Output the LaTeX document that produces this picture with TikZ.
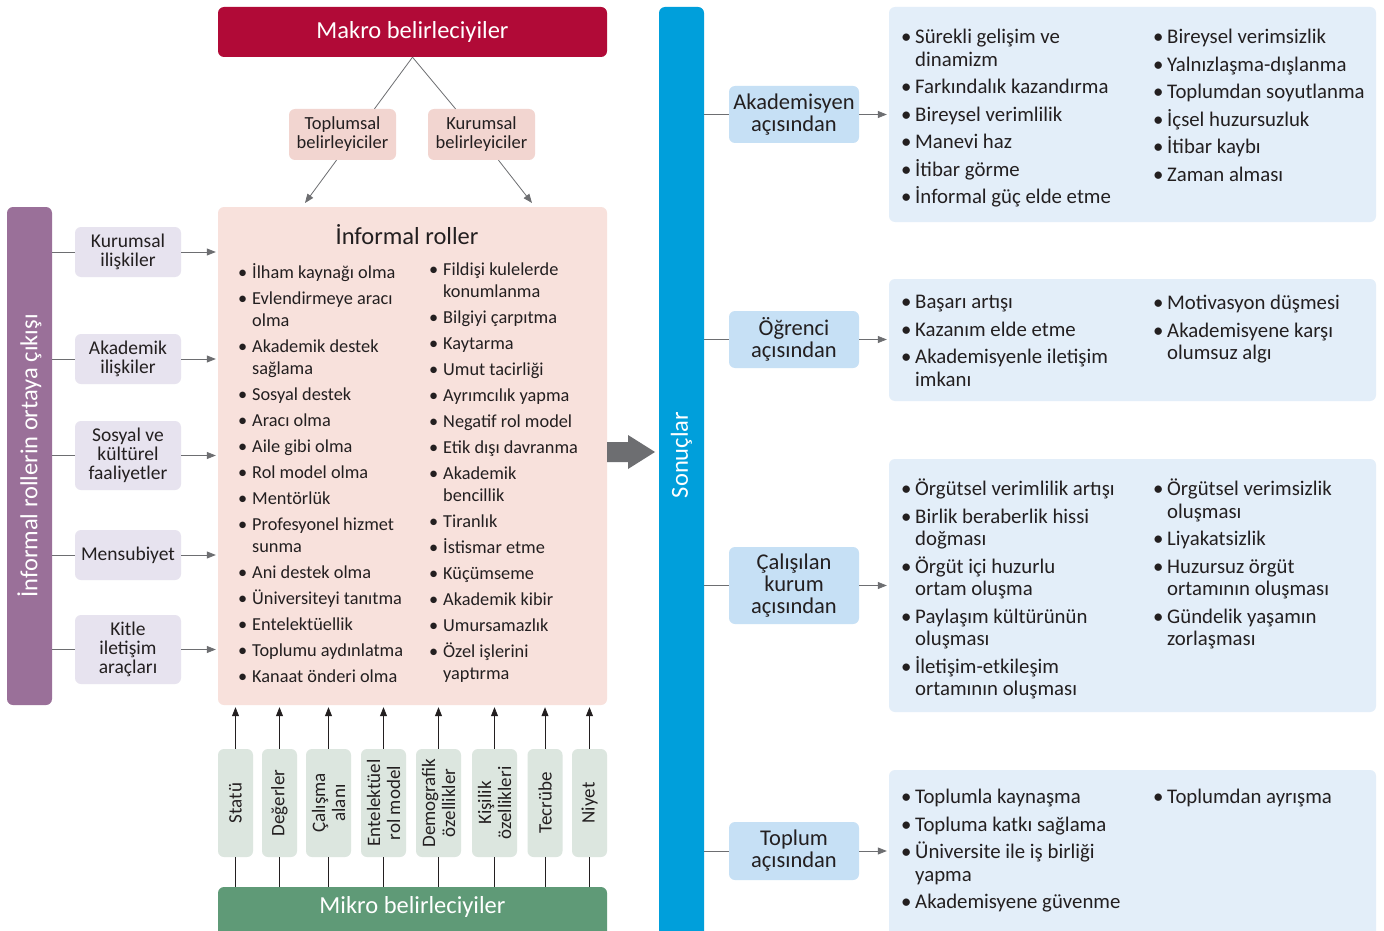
\documentclass[tikz,border=0pt]{standalone}
\usepackage{fontspec}
\setmainfont{Carlito}
\usetikzlibrary{arrows.meta}
\definecolor{txt}{HTML}{231F20}
\definecolor{makro}{HTML}{B10A37}
\definecolor{belir}{HTML}{F2D5D0}
\definecolor{infpink}{HTML}{F8E1DC}
\definecolor{purp}{HTML}{9A7099}
\definecolor{lav}{HTML}{E7E3EF}
\definecolor{arrgray}{HTML}{6D6E71}
\definecolor{sonblue}{HTML}{009FDB}
\definecolor{persp}{HTML}{C6E0F5}
\definecolor{sonuc}{HTML}{E3EEF9}
\definecolor{mikrolt}{HTML}{DCE6DF}
\definecolor{mikro}{HTML}{5F9A77}
\newlength{\dotw}
\setlength{\dotw}{15pt}
\newcommand{\itemdot}{\makebox[\dotw][l]{\hspace*{1pt}\textbullet}}
\newcommand{\itemgap}{\hspace*{\dotw}}
\begin{document}
\begin{tikzpicture}[x=1pt,y=-1pt,
  box/.style={rounded corners=6pt, inner sep=0pt, align=center, text=txt},
  headfont/.style={font=\fontsize{24.5}{28}\selectfont},
  head/.style={box, text=white, headfont},
  small/.style={box, font=\fontsize{19.5}{19}\selectfont},
  micro/.style={box, fill=mikrolt, rotate=90, minimum width=108pt, font=\fontsize{19}{20}\selectfont},
  persbox/.style={box, fill=persp, minimum width=130pt, font=\fontsize{22.5}{22}\selectfont},
  sonbox/.style={box, fill=sonuc, minimum width=487pt},
  list/.style={anchor=north west, inner sep=0pt, align=left, text=txt},
  ln/.style={draw=arrgray, line width=0.8pt},
  arr/.style={ln, -{Triangle[length=9pt,width=7pt]}},
  arrk/.style={draw=txt, line width=0.9pt, -{Triangle[length=9pt,width=7pt]}}]
\clip (0,0) rectangle (1384,931);
\fill[white] (0,0) rectangle (1384,931);

% makro
\node[head, fill=makro, minimum width=389pt, minimum height=50pt] (mak) at (412.5,32) {Makro belirleciyiler};
\node[small, fill=belir, minimum width=107pt, minimum height=51pt, font=\fontsize{18.5}{19}\selectfont] (topl) at (342.5,134.5) {Toplumsal\\belirleyiciler};
\node[small, fill=belir, minimum width=107pt, minimum height=51pt, font=\fontsize{18.5}{19}\selectfont] (kurb) at (481.5,134.5) {Kurumsal\\belirleyiciler};
\draw[ln] (mak.south) -- ([xshift=32pt]topl.north);
\draw[ln] (mak.south) -- ([xshift=-26pt]kurb.north);

% informal roller
\node[box, fill=infpink, minimum width=389pt, minimum height=498pt] (inf) at (412.5,456) {};
\node[text=txt, headfont] (inft) at (407,235) {İnformal roller};
\coordinate (t1) at (305,203);
\coordinate (t2) at (532,203);
\draw[arr] ([xshift=-6pt]topl.south) -- (t1);
\draw[arr] ([xshift=17pt]kurb.south) -- (t2);
\node[list, font=\fontsize{18.3}{22}\selectfont] (infl) at (237,263) {%
\itemdot İlham kaynağı olma\\[4pt]
\itemdot Evlendirmeye aracı\\ \itemgap olma\\[4pt]
\itemdot Akademik destek\\ \itemgap sağlama\\[4pt]
\itemdot Sosyal destek\\[4pt]
\itemdot Aracı olma\\[4pt]
\itemdot Aile gibi olma\\[4pt]
\itemdot Rol model olma\\[4pt]
\itemdot Mentörlük\\[4pt]
\itemdot Profesyonel hizmet\\ \itemgap sunma\\[4pt]
\itemdot Ani destek olma\\[4pt]
\itemdot Üniversiteyi tanıtma\\[4pt]
\itemdot Entelektüellik\\[4pt]
\itemdot Toplumu aydınlatma\\[4pt]
\itemdot Kanaat önderi olma};
\node[list, font=\fontsize{18.3}{22}\selectfont] (infr) at (428,263) {%
\itemdot Fildişi kulelerde\\ \itemgap konumlanma\\[4pt]
\itemdot Bilgiyi çarpıtma\\[4pt]
\itemdot Kaytarma\\[4pt]
\itemdot Umut tacirliği\\[4pt]
\itemdot Ayrımcılık yapma\\[4pt]
\itemdot Negatif rol model\\[4pt]
\itemdot Etik dışı davranma\\[4pt]
\itemdot Akademik\\ \itemgap bencillik\\[4pt]
\itemdot Tiranlık\\[4pt]
\itemdot İstismar etme\\[4pt]
\itemdot Küçümseme\\[4pt]
\itemdot Akademik kibir\\[4pt]
\itemdot Umursamazlık\\[4pt]
\itemdot Özel işlerini\\ \itemgap yaptırma};

% sol taraf
\node[head, fill=purp, rotate=90, minimum width=498pt, minimum height=45pt] (purp) at (29.5,456) {İnformal rollerin ortaya çıkışı};
\node[small, fill=lav, minimum width=106pt, minimum height=50pt] (kur) at (128,252) {Kurumsal\\ilişkiler};
\node[small, fill=lav, minimum width=106pt, minimum height=50pt] (aka) at (128,359) {Akademik\\ilişkiler};
\node[small, fill=lav, minimum width=106pt, minimum height=69pt] (sos) at (128,455.5) {Sosyal ve\\kültürel\\faaliyetler};
\node[small, fill=lav, minimum width=106pt, minimum height=50pt] (men) at (128,555) {Mensubiyet};
\node[small, fill=lav, minimum width=106pt, minimum height=69pt] (kit) at (128,649.5) {Kitle\\iletişim\\araçları};
\foreach \b in {kur,aka,sos,men,kit}{
  \draw[ln] (purp.south |- \b.west) -- (\b.west);
  \draw[arr] (\b.east) -- ([xshift=-2pt]\b.east -| inf.west);
}

% mikro
\node[head, fill=mikro, minimum width=389pt, minimum height=52pt] (mik) at (412.5,913) {};
\node[text=white, headfont] (mikt) at (412.5,907) {Mikro belirleciyiler};
\node[micro, minimum height=35pt] (m1) at (235.5,803) {Statü};
\node[micro, minimum height=35pt] (m2) at (279.5,803) {Değerler};
\node[micro, minimum height=45pt] (m3) at (328.5,803) {Çalışma\\alanı};
\node[micro, minimum height=45pt] (m4) at (383.5,803) {Entelektüel\\rol model};
\node[micro, minimum height=45pt] (m5) at (438.5,803) {Demografik\\özellikler};
\node[micro, minimum height=45pt] (m6) at (494.5,803) {Kişilik\\özellikleri};
\node[micro, minimum height=35pt] (m7) at (545,803) {Tecrübe};
\node[micro, minimum height=35pt] (m8) at (589.5,803) {Niyet};
\foreach \m in {m1,m2,m3,m4,m5,m6,m7,m8}{
  \draw[draw=txt, line width=0.9pt] (mik.north -| \m.west) -- (\m.west);
  \draw[arrk] (\m.east) -- ([yshift=-2pt]\m.east |- inf.south);
}

% sonuclar
\fill[arrgray] (607,442) -- (628,442) -- (628,435) -- (655,452) -- (628,469) -- (628,462) -- (607,462) -- cycle;
\node[head, fill=sonblue, rotate=90, minimum width=936pt, minimum height=45pt] (son) at (681.5,475) {};
\node[text=white, rotate=90, headfont] (sont) at (681.5,455) {Sonuçlar};

\node[persbox, minimum height=57pt] (p1) at (794,114.5) {Akademisyen\\açısından};
\node[persbox, minimum height=57pt] (p2) at (794,339.5) {Öğrenci\\açısından};
\node[persbox, minimum height=77pt] (p3) at (794,585.5) {Çalışılan\\kurum\\açısından};
\node[persbox, minimum height=58pt] (p4) at (794,851) {Toplum\\açısından};
\node[sonbox, minimum height=215pt] (c1) at (1132.5,114.5) {};
\node[sonbox, minimum height=122pt] (c2) at (1132.5,340) {};
\node[sonbox, minimum height=253pt] (c3) at (1132.5,585.5) {};
\node[sonbox, minimum height=170pt] (c4) at (1132.5,855) {};
\foreach \p/\c in {p1/c1,p2/c2,p3/c3,p4/c4}{
  \draw[ln] (son.south |- \p.west) -- (\p.west);
  \draw[arr] (\p.east) -- ([xshift=-2pt]\p.east -| \c.west);
}

\tikzset{rlist/.style={list, font=\fontsize{20.8}{22.5}\selectfont}}
\node[rlist] (c1l) at (900,29) {%
\itemdot Sürekli gelişim ve\\ \itemgap dinamizm\\[5pt]
\itemdot Farkındalık kazandırma\\[5pt]
\itemdot Bireysel verimlilik\\[5pt]
\itemdot Manevi haz\\[5pt]
\itemdot İtibar görme\\[5pt]
\itemdot İnformal güç elde etme};
\node[rlist] (c1r) at (1152,29) {%
\itemdot Bireysel verimsizlik\\[5pt]
\itemdot Yalnızlaşma-dışlanma\\[5pt]
\itemdot Toplumdan soyutlanma\\[5pt]
\itemdot İçsel huzursuzluk\\[5pt]
\itemdot İtibar kaybı\\[5pt]
\itemdot Zaman alması};
\node[rlist] (c2l) at (900,295) {%
\itemdot Başarı artışı\\[5pt]
\itemdot Kazanım elde etme\\[5pt]
\itemdot Akademisyenle iletişim\\ \itemgap imkanı};
\node[rlist] (c2r) at (1152,295) {%
\itemdot Motivasyon düşmesi\\[5pt]
\itemdot Akademisyene karşı\\ \itemgap olumsuz algı};
\node[rlist] (c3l) at (900,479) {%
\itemdot Örgütsel verimlilik artışı\\[5pt]
\itemdot Birlik beraberlik hissi\\ \itemgap doğması\\[5pt]
\itemdot Örgüt içi huzurlu\\ \itemgap ortam oluşma\\[5pt]
\itemdot Paylaşım kültürünün\\ \itemgap oluşması\\[5pt]
\itemdot İletişim-etkileşim\\ \itemgap ortamının oluşması};
\node[rlist] (c3r) at (1152,479) {%
\itemdot Örgütsel verimsizlik\\ \itemgap oluşması\\[5pt]
\itemdot Liyakatsizlik\\[5pt]
\itemdot Huzursuz örgüt\\ \itemgap ortamının oluşması\\[5pt]
\itemdot Gündelik yaşamın\\ \itemgap zorlaşması};
\node[rlist] (c4l) at (900,789) {%
\itemdot Toplumla kaynaşma\\[5pt]
\itemdot Topluma katkı sağlama\\[5pt]
\itemdot Üniversite ile iş birliği\\ \itemgap yapma\\[5pt]
\itemdot Akademisyene güvenme};
\node[rlist] (c4r) at (1152,789) {%
\itemdot Toplumdan ayrışma};
\end{tikzpicture}
\end{document}
